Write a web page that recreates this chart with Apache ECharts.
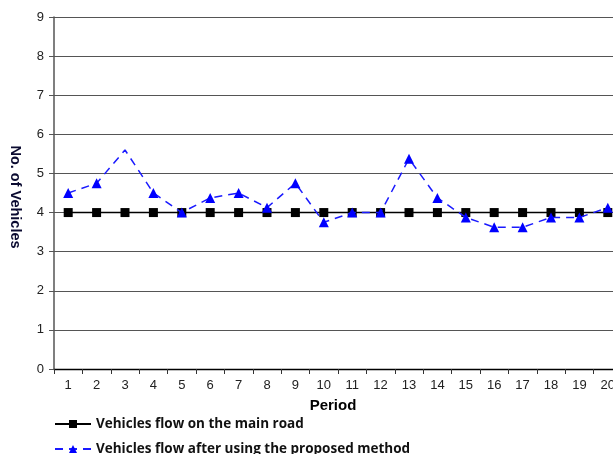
<!DOCTYPE html>
<html><head><meta charset="utf-8">
<script src="https://cdn.jsdelivr.net/npm/echarts@6/dist/echarts.min.js"></script>
<style>html,body{margin:0;padding:0;background:#fff}#c{width:613px;height:454px}</style>
</head><body><div id="c"></div>
<script>
var periods = ['1','2','3','4','5','6','7','8','9','10','11','12','13','14','15','16','17','18','19','20'];
var mainRoad = [4,4,4,4,4,4,4,4,4,4,4,4,4,4,4,4,4,4,4,4];
var proposed = [4.5,4.75,5.6,4.5,4.0,4.375,4.5,4.125,4.75,3.75,4.0,4.0,5.375,4.375,3.875,3.625,3.625,3.875,3.875,4.125];
var yTicks = [0,1,2,3,4,5,6,7,8,9];
var s1 = 'Vehicles flow on the main road';
var s2 = 'Vehicles flow after using the proposed method';

var legendText = {fontFamily:'Open Sans',fontWeight:'bold',fontSize:13.5,color:'#111'};
var chart = echarts.init(document.getElementById('c'));
chart.setOption({
  animation:false,
  grid:{left:54,width:568,top:17,height:352,outerBoundsMode:'none',containLabel:false},
  xAxis:{
    type:'category', data:periods, boundaryGap:true,
    name:'Period', nameLocation:'middle', nameGap:29,
    nameTextStyle:{fontFamily:'Liberation Sans',fontWeight:'bold',fontSize:15,color:'#000',padding:[0,10,0,0]},
    axisLine:{lineStyle:{color:'#000',width:1.3}},
    axisTick:{show:true,length:5,lineStyle:{color:'#333'}},
    axisLabel:{fontFamily:'Liberation Sans',fontSize:13,color:'#222',margin:10}
  },
  yAxis:{
    type:'value', min:0, max:9, interval:1,
    name:'No. of Vehicles', nameLocation:'middle', nameGap:32, nameRotate:-90,
    nameTextStyle:{fontFamily:'Liberation Sans',fontWeight:'bold',fontSize:14.5,color:'#0a0a30',padding:[0,0,0,8]},
    axisLine:{show:true,lineStyle:{color:'#555',width:1.5}},
    axisTick:{show:true,length:5,lineStyle:{color:'#555'}},
    axisLabel:{fontFamily:'Liberation Sans',fontSize:13,color:'#222',margin:10,
      formatter:function(v){return yTicks.indexOf(v)>=0?String(v):'';}},
    splitLine:{lineStyle:{color:'#555',width:1.2}}
  },
  legend:[
    {left:49, top:412, itemWidth:36, itemHeight:10, itemGap:0, textStyle:legendText, data:[s1]},
    {left:49, top:437, itemWidth:36, itemHeight:10, itemGap:0, textStyle:legendText, data:[s2]}
  ],
  series:[
    {name:s1, type:'line', data:mainRoad,
     symbol:'rect', symbolSize:9, lineStyle:{color:'#000',width:1.5}, itemStyle:{color:'#000'}, z:3},
    {name:s2, type:'line',
     data:proposed.map(function(v,i){return i===2?{value:v,symbol:'none'}:v;}),
     symbol:'triangle', symbolSize:10, lineStyle:{color:'#1a1aff',width:1.5,type:[8,6]}, itemStyle:{color:'#0000ff'}, z:4}
  ]
});
</script></body></html>
